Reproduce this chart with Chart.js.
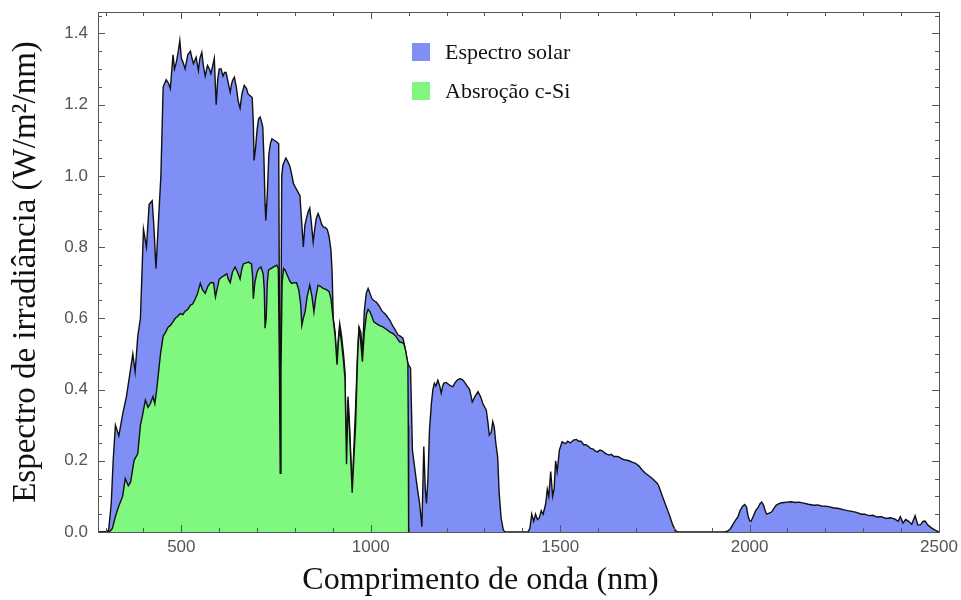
<!DOCTYPE html>
<html>
<head>
<meta charset="utf-8">
<script src="https://cdn.jsdelivr.net/npm/chart.js@4.4.1/dist/chart.umd.min.js"></script>
<style>
  body { margin: 0; background: #fff; }
  #wrap { position: relative; width: 961px; height: 600px; }
  #legend { position: absolute; left: 412px; top: 32px; font-family: "Liberation Serif", "Times New Roman", serif; font-size: 22px; color: #111; }
  #legend .item { display: flex; align-items: center; height: 39px; }
  #legend .box { width: 18px; height: 18px; margin-right: 15px; }
</style>
</head>
<body>
<div id="wrap">
  <canvas id="spectrum" width="961" height="600"></canvas>
  <div id="legend"></div>
</div>
<script>
// Espectro solar e absorção do c-Si
const seriesLabels = ["Espectro solar", "Absroção c-Si"];
const seriesColors = ["#7f8ff6", "#80f880"];

const xTickLabels = [500, 1000, 1500, 2000, 2500];
const yTickLabels = [0, 0.2, 0.4, 0.6, 0.8, 1.0, 1.2, 1.4];

// [comprimento de onda (nm), W/m²/nm]
const solarPoints = [
  [280,0],[300,0],[308,0.005],[315,0.08],[320,0.2],[326,0.3],[335,0.27],[345,0.33],
  [355,0.38],[365,0.45],[372,0.5],[378,0.45],[385,0.55],[392,0.6],[400,0.85],[408,0.8],
  [415,0.92],[423,0.93],[428,0.85],[433,0.74],[440,0.88],[446,1.0],[452,1.25],[460,1.27],
  [466,1.26],[471,1.245],[478,1.34],[482,1.30],[487,1.32],[492,1.35],[496,1.38],[500,1.33],
  [504,1.32],[510,1.30],[517,1.34],[524,1.35],[528,1.33],[532,1.315],[539,1.333],[545,1.296],
  [549,1.33],[554,1.347],[558,1.31],[563,1.28],[569,1.31],[574,1.30],[578,1.287],[583,1.31],
  [587,1.33],[590,1.25],[592,1.2],[596,1.27],[600,1.30],[605,1.30],[610,1.28],[614,1.29],
  [618,1.29],[622,1.27],[626,1.25],[629,1.235],[633,1.26],[636,1.27],[640,1.277],[645,1.25],
  [650,1.21],[655,1.19],[660,1.23],[666,1.254],[672,1.245],[676,1.23],[680,1.226],[687,1.22],
  [690,1.15],[692,1.043],[696,1.08],[700,1.13],[704,1.16],[708,1.165],[712,1.15],[715,1.137],
  [718,1.05],[721,0.92],[723,0.875],[727,0.95],[731,1.06],[735,1.09],[739,1.104],[745,1.10],
  [752,1.095],[757,1.09],[759,0.6],[761,0.17],[763,0.6],[765,1.0],[768,1.03],[772,1.04],
  [776,1.05],[781,1.04],[787,1.025],[792,1.0],[796,0.978],[800,0.97],[805,0.96],[810,0.95],
  [813,0.945],[817,0.88],[822,0.80],[826,0.86],[830,0.88],[835,0.90],[839,0.91],[843,0.87],
  [848,0.814],[852,0.85],[856,0.88],[861,0.894],[866,0.88],[870,0.865],[875,0.856],[880,0.855],
  [885,0.85],[890,0.83],[895,0.79],[898,0.73],[901,0.60],[906,0.56],[911,0.47],[915,0.55],
  [918,0.585],[923,0.55],[928,0.50],[932,0.45],[936,0.2],[940,0.38],[944,0.3],[951,0.118],
  [956,0.25],[960,0.35],[965,0.5],[969,0.576],[974,0.56],[978,0.5],[983,0.62],[988,0.67],
  [993,0.684],[998,0.67],[1003,0.655],[1008,0.65],[1015,0.645],[1022,0.635],[1030,0.62],[1040,0.61],
  [1050,0.595],[1060,0.575],[1066,0.565],[1072,0.553],[1078,0.55],[1085,0.544],[1090,0.52],[1095,0.49],
  [1098,0.473],[1105,0.46],[1110,0.23],[1116,0.18],[1122,0.13],[1129,0.08],[1135,0.015],[1140,0.24],
  [1144,0.12],[1147,0.08],[1151,0.15],[1155,0.286],[1160,0.36],[1164,0.40],[1168,0.418],[1172,0.41],
  [1177,0.426],[1182,0.41],[1186,0.39],[1190,0.41],[1193,0.418],[1199,0.42],[1205,0.415],[1211,0.41],
  [1217,0.408],[1223,0.42],[1230,0.428],[1236,0.43],[1242,0.428],[1248,0.42],[1254,0.41],[1261,0.40],
  [1265,0.38],[1268,0.365],[1275,0.38],[1283,0.394],[1290,0.38],[1296,0.36],[1305,0.342],[1309,0.31],
  [1313,0.272],[1318,0.28],[1322,0.31],[1326,0.295],[1330,0.25],[1335,0.211],[1339,0.109],[1344,0.04],
  [1350,0.005],[1355,0],[1415,0],[1420,0.01],[1425,0.05],[1430,0.03],[1435,0.05],[1440,0.035],
  [1445,0.04],[1450,0.06],[1455,0.05],[1462,0.08],[1466,0.12],[1470,0.10],[1475,0.17],[1480,0.10],
  [1484,0.12],[1488,0.20],[1492,0.17],[1498,0.23],[1505,0.253],[1510,0.25],[1514,0.248],[1520,0.255],
  [1527,0.25],[1535,0.258],[1543,0.26],[1549,0.255],[1555,0.255],[1562,0.245],[1568,0.245],[1575,0.24],
  [1580,0.235],[1587,0.233],[1592,0.228],[1598,0.225],[1605,0.23],[1611,0.228],[1620,0.22],[1629,0.216],
  [1635,0.218],[1642,0.212],[1650,0.212],[1655,0.211],[1664,0.205],[1673,0.202],[1682,0.2],[1690,0.196],
  [1699,0.193],[1708,0.185],[1716,0.175],[1725,0.165],[1734,0.158],[1743,0.15],[1750,0.143],[1756,0.137],
  [1760,0.13],[1764,0.118],[1770,0.1],[1777,0.08],[1784,0.06],[1790,0.043],[1797,0.02],[1804,0.005],
  [1810,0],[1935,0],[1943,0.003],[1950,0.01],[1958,0.025],[1964,0.035],[1969,0.042],[1975,0.06],
  [1981,0.072],[1987,0.077],[1992,0.07],[1996,0.045],[2000,0.032],[2004,0.03],[2010,0.045],[2016,0.06],
  [2023,0.07],[2028,0.08],[2032,0.084],[2037,0.075],[2041,0.06],[2045,0.05],[2050,0.052],[2058,0.056],
  [2065,0.068],[2070,0.075],[2076,0.079],[2085,0.082],[2092,0.083],[2098,0.084],[2110,0.085],[2120,0.083],
  [2130,0.084],[2143,0.081],[2155,0.078],[2170,0.075],[2180,0.076],[2190,0.073],[2206,0.072],[2220,0.068],
  [2235,0.066],[2250,0.062],[2259,0.06],[2270,0.058],[2282,0.055],[2295,0.05],[2304,0.05],[2315,0.046],
  [2326,0.047],[2336,0.042],[2348,0.043],[2360,0.038],[2372,0.04],[2384,0.036],[2392,0.03],[2398,0.043],
  [2405,0.025],[2412,0.035],[2420,0.03],[2428,0.022],[2437,0.046],[2444,0.02],[2451,0.02],[2458,0.03],
  [2464,0.03],[2470,0.02],[2476,0.015],[2482,0.01],[2490,0.005],[2500,0]
];

const siPoints = [
  [280,0],[310,0],[318,0.01],[325,0.04],[334,0.07],[345,0.1],[352,0.15],[360,0.13],
  [366,0.14],[375,0.2],[385,0.22],[392,0.3],[398,0.33],[405,0.37],[412,0.35],[418,0.36],
  [425,0.38],[430,0.36],[435,0.40],[440,0.45],[445,0.50],[452,0.55],[458,0.56],[465,0.575],
  [471,0.58],[478,0.59],[484,0.6],[490,0.605],[497,0.613],[504,0.61],[510,0.62],[517,0.625],
  [524,0.637],[530,0.64],[537,0.655],[543,0.67],[550,0.698],[556,0.68],[563,0.67],[570,0.69],
  [577,0.70],[585,0.70],[590,0.66],[594,0.68],[600,0.71],[607,0.716],[613,0.72],[620,0.725],
  [624,0.71],[629,0.70],[635,0.73],[642,0.744],[646,0.735],[650,0.725],[655,0.71],[660,0.74],
  [664,0.753],[670,0.755],[677,0.758],[681,0.755],[685,0.753],[688,0.72],[690,0.655],[694,0.70],
  [700,0.73],[705,0.74],[710,0.744],[716,0.725],[719,0.68],[721,0.572],[724,0.60],[727,0.70],
  [730,0.735],[737,0.74],[745,0.745],[752,0.749],[756,0.74],[759,0.45],[761,0.165],[763,0.45],
  [766,0.70],[770,0.74],[774,0.735],[780,0.72],[786,0.705],[791,0.698],[797,0.70],[804,0.70],
  [810,0.68],[815,0.64],[818,0.58],[822,0.60],[827,0.62],[832,0.66],[839,0.693],[845,0.66],
  [850,0.618],[855,0.66],[861,0.693],[867,0.69],[874,0.684],[880,0.682],[885,0.679],[890,0.675],
  [895,0.655],[901,0.595],[906,0.55],[911,0.47],[915,0.54],[918,0.57],[923,0.53],[928,0.48],
  [932,0.43],[936,0.19],[940,0.37],[944,0.28],[951,0.11],[956,0.22],[960,0.30],[965,0.48],
  [969,0.576],[973,0.54],[978,0.478],[983,0.56],[989,0.613],[993,0.625],[998,0.618],[1003,0.605],
  [1008,0.59],[1015,0.585],[1022,0.58],[1032,0.576],[1040,0.57],[1050,0.562],[1059,0.557],[1066,0.55],
  [1076,0.534],[1082,0.532],[1087,0.53],[1092,0.51],[1095,0.49],[1098,0.473],[1099,0.3],[1100,0]
];

// moldura com marcas internas, como no gráfico original
const framePlugin = {
  id: "frame",
  afterDatasetsDraw(chart) {
    const { ctx, chartArea: a, scales: { x, y } } = chart;
    ctx.save();
    ctx.strokeStyle = "#555";
    ctx.lineWidth = 1;
    ctx.strokeRect(Math.round(a.left) + 0.5, Math.round(a.top) + 0.5, Math.round(a.right - a.left), Math.round(a.bottom - a.top));
    ctx.beginPath();
    for (let v = 300; v <= 2500; v += 100) {
      const px = Math.round(x.getPixelForValue(v)) + 0.5;
      const len = v % 500 === 0 ? 7 : 4;
      ctx.moveTo(px, a.bottom); ctx.lineTo(px, a.bottom - len);
      ctx.moveTo(px, a.top); ctx.lineTo(px, a.top + len);
    }
    for (let i = 0; i <= 29; i++) {
      const py = Math.round(y.getPixelForValue(i * 0.05)) + 0.5;
      const len = i % 4 === 0 ? 7 : 4;
      ctx.moveTo(a.left, py); ctx.lineTo(a.left + len, py);
      ctx.moveTo(a.right, py); ctx.lineTo(a.right - len, py);
    }
    ctx.stroke();
    ctx.restore();
  }
};

const toXY = pts => pts.map(p => ({ x: p[0], y: p[1] }));
const tickFont = { family: "'Liberation Sans', Arial, sans-serif", size: 17 };
const titleFont = { family: "'Liberation Serif', 'Times New Roman', serif", size: 32, weight: "normal" };

const chart = new Chart(document.getElementById("spectrum"), {
  type: "line",
  data: {
    datasets: [{
      label: seriesLabels[0],
      data: toXY(solarPoints),
      borderColor: "#111",
      borderWidth: 1.4,
      backgroundColor: seriesColors[0],
      fill: "origin",
      pointRadius: 0,
      order: 2
    }, {
      label: seriesLabels[1],
      data: toXY(siPoints),
      borderColor: "#111",
      borderWidth: 1.4,
      backgroundColor: seriesColors[1],
      fill: "origin",
      pointRadius: 0,
      order: 1
    }]
  },
  options: {
    responsive: false,
    animation: false,
    layout: { padding: { top: 12, right: 0, left: 0, bottom: 0 } },
    plugins: {
      legend: { display: false },
      tooltip: { enabled: false },
      title: {
        display: true,
        position: "bottom",
        text: "Comprimento de onda (nm)",
        color: "#111",
        font: titleFont,
        padding: { top: 0, bottom: 0 }
      }
    },
    scales: {
      x: {
        type: "linear",
        min: 280,
        max: 2500,
        grid: { display: false, drawTicks: false },
        border: { display: false },
        afterBuildTicks: s => { s.ticks = xTickLabels.map(v => ({ value: v })); },
        afterFit: s => { s.height = 29.6; s.paddingLeft = 0; s.paddingRight = 22; },
        ticks: {
          autoSkip: false,
          maxRotation: 0,
          padding: 5,
          color: "#555",
          font: tickFont,
          callback: v => String(v)
        }
      },
      y: {
        min: 0,
        max: 1.46,
        grid: { display: false, drawTicks: false },
        border: { display: false },
        afterBuildTicks: s => { s.ticks = yTickLabels.map(v => ({ value: v })); },
        afterFit: s => { s.width = 98; s.paddingTop = 0; s.paddingBottom = 0; },
        ticks: {
          autoSkip: false,
          padding: 10,
          color: "#555",
          font: tickFont,
          callback: v => Number(v).toFixed(1)
        },
        title: {
          display: true,
          text: "Espectro de irradiância (W/m²/nm)",
          color: "#111",
          font: { ...titleFont, size: 33 },
          padding: { top: 7, bottom: 0 }
        }
      }
    }
  },
  plugins: [framePlugin]
});

// legenda dentro da área do gráfico
const legendEl = document.getElementById("legend");
chart.data.datasets.forEach(ds => {
  const item = document.createElement("div");
  item.className = "item";
  const box = document.createElement("span");
  box.className = "box";
  box.style.background = ds.backgroundColor;
  const txt = document.createElement("span");
  txt.textContent = ds.label;
  item.appendChild(box);
  item.appendChild(txt);
  legendEl.appendChild(item);
});
</script>
</body>
</html>
